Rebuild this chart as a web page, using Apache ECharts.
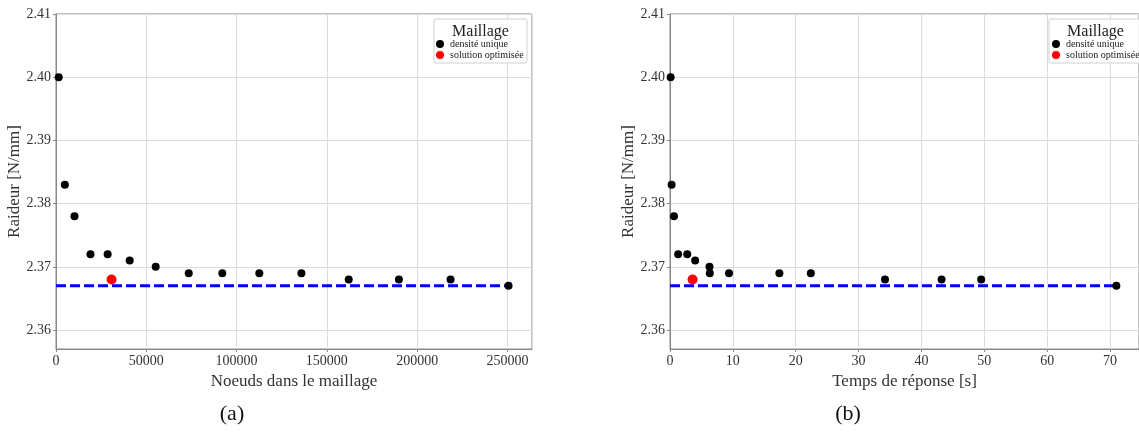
<!DOCTYPE html>
<html>
<head>
<meta charset="utf-8">
<script src="https://cdn.jsdelivr.net/npm/echarts@6/dist/echarts.min.js"></script>
<style>
html,body{margin:0;padding:0;background:#fff;}
#chart{width:1139px;height:436px;}
</style>
</head>
<body>
<div id="chart"></div>
<script>
// ---- data ----
const nodesX = [1500, 4900, 10250, 19100, 28600, 40800, 55200, 73500, 92100, 112600, 135900, 162100, 189900, 218500, 250600];
const nodesY = [2.400, 2.383, 2.378, 2.372, 2.372, 2.371, 2.370, 2.369, 2.369, 2.369, 2.369, 2.368, 2.368, 2.368, 2.367];
const timeX  = [0.1, 0.26, 0.63, 1.3, 2.74, 4.0, 6.28, 6.33, 9.39, 17.4, 22.4, 34.2, 43.2, 49.5, 71.0];
const timeY  = [2.400, 2.383, 2.378, 2.372, 2.372, 2.371, 2.370, 2.369, 2.369, 2.369, 2.369, 2.368, 2.368, 2.368, 2.367];
const optNodes = [30760];
const optTime  = [3.59];
const optY     = [2.368];
const refY = 2.367;
const seriesNames = ['densité unique', 'solution optimisée'];
const legendTitle = 'Maillage';
const yName = 'Raideur [N/mm]';
const xNames = ['Noeuds dans le maillage', 'Temps de réponse [s]'];
const captions = ['(a)', '(b)'];

const FONT = 'Liberation Serif';
const TXT = '#333';
const SPINE = '#888';
const GRIDC = '#dcdcdc';

function pairs(xs, ys){ return xs.map((x,i)=>[x, ys[i]]); }

function xAxisCfg(idx, max, interval, name){
  return {
    type:'value', gridIndex:idx, min:0, max:max, interval:interval,
    name:name, nameLocation:'middle', nameGap:19,
    nameTextStyle:{fontFamily:FONT, fontSize:17, color:TXT},
    axisLine:{show:true, lineStyle:{color:SPINE, width:1}},
    axisTick:{show:true, inside:false, length:3, lineStyle:{color:SPINE}},
    axisLabel:{fontFamily:FONT, fontSize:14, color:TXT, margin:5, showMaxLabel:false,
      formatter:v=>String(v)},
    splitLine:{show:true, lineStyle:{color:GRIDC, width:1}}
  };
}
function yAxisCfg(idx){
  return {
    type:'value', gridIndex:idx, min:2.357, max:2.41,
    name:yName, nameLocation:'middle', nameGap:30, nameRotate:90,
    nameTextStyle:{fontFamily:FONT, fontSize:17, color:TXT},
    axisLine:{show:true, lineStyle:{color:SPINE, width:1}},
    axisTick:{show:true, inside:false, length:3, lineStyle:{color:SPINE}},
    axisLabel:{fontFamily:FONT, fontSize:14, color:TXT, margin:5, showMinLabel:false,
      formatter:v=>v.toFixed(2)},
    splitLine:{show:true, lineStyle:{color:GRIDC, width:1}}
  };
}
function scatter(name, idx, data, color, size){
  return {type:'scatter', name:name, xAxisIndex:idx, yAxisIndex:idx, data:data,
    symbol:'circle', symbolSize:size, itemStyle:{color:color, opacity:1}, z:5, silent:true};
}
function refLine(idx, xEnd){
  return {type:'line', name:'ref', xAxisIndex:idx, yAxisIndex:idx,
    data:[[0, refY],[xEnd, refY]], symbol:'none', silent:true, z:3,
    lineStyle:{color:'#0000ff', width:3, type:[10,4]}};
}
function legendCfg(left, top){
  return {data:seriesNames, orient:'vertical', left:left, top:top, z:20,
    itemWidth:8, itemHeight:8, itemGap:1, icon:'circle', padding:0,
    selectedMode:false,
    textStyle:{fontFamily:FONT, fontSize:10, color:'#222', lineHeight:9, padding:[0,0,0,1]}};
}
function legendBox(x, y, w, h){
  return [
    {type:'rect', shape:{x:x, y:y, width:w, height:h, r:2}, z:3,
      style:{fill:'rgba(255,255,255,0.85)', stroke:'#d0d0d0', lineWidth:1}},
    {type:'text', x:x + w/2, y:y+13, z:4,
      style:{text:legendTitle, font:'16px "'+FONT+'"', fill:'#222', textAlign:'center', textVerticalAlign:'middle'}}
  ];
}

const chart = echarts.init(document.getElementById('chart'), null, {renderer:'canvas'});
chart.setOption({
  animation:false,
  backgroundColor:'#fff',
  grid:[
    {left:56, top:14, width:476, height:335, show:true, borderColor:SPINE, borderWidth:1, containLabel:false},
    {left:670, top:14, width:477, height:335, show:true, borderColor:SPINE, borderWidth:1, containLabel:false}
  ],
  xAxis:[xAxisCfg(0, 263600, 50000, xNames[0]), xAxisCfg(1, 74.6, 10, xNames[1])],
  yAxis:[yAxisCfg(0), yAxisCfg(1)],
  legend:[legendCfg(436, 39), legendCfg(1052, 39)],
  series:[
    refLine(0, nodesX[nodesX.length-1]),
    scatter(seriesNames[0], 0, pairs(nodesX, nodesY), '#000', 8),
    scatter(seriesNames[1], 0, pairs(optNodes, optY), '#ff0000', 10),
    refLine(1, timeX[timeX.length-1]),
    scatter(seriesNames[0], 1, pairs(timeX, timeY), '#000', 8),
    scatter(seriesNames[1], 1, pairs(optTime, optY), '#ff0000', 10)
  ],
  graphic:[
    ...legendBox(434, 19, 93, 44),
    ...legendBox(1049, 19, 93, 44),
    {type:'text', x:232, y:414, style:{text:captions[0], font:'22px "'+FONT+'"', fill:'#111', textAlign:'center', textVerticalAlign:'middle'}},
    {type:'text', x:848, y:414, style:{text:captions[1], font:'22px "'+FONT+'"', fill:'#111', textAlign:'center', textVerticalAlign:'middle'}}
  ]
});
</script>
</body>
</html>
